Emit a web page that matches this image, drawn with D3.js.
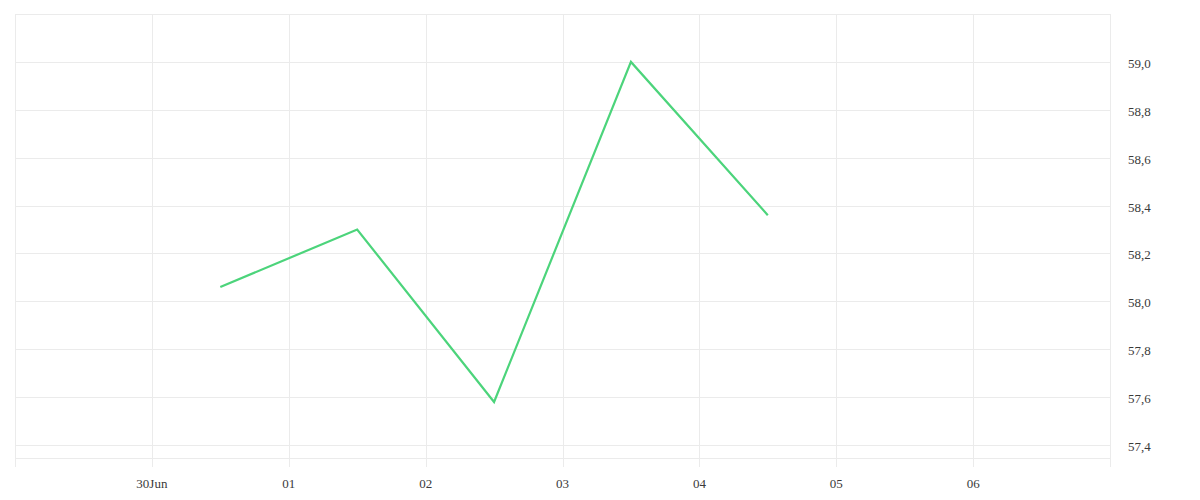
<!DOCTYPE html>
<html><head><meta charset="utf-8">
<script src="https://cdn.jsdelivr.net/npm/d3@7"></script>
<style>
html,body{margin:0;padding:0;background:#fff;}
text{font-family:"Liberation Serif","DejaVu Serif",serif;font-size:13px;fill:#3a3a3a;}
</style></head>
<body><svg id="c" width="1200" height="500"></svg>
<script>
const dates = ["2024-06-30T12:00","2024-07-01T12:00","2024-07-02T12:00","2024-07-03T12:00","2024-07-04T12:00"];
const values = [58.06, 58.30, 57.58, 59.00, 58.36];
const xTicks = ["2024-06-30","2024-07-01","2024-07-02","2024-07-03","2024-07-04","2024-07-05","2024-07-06"];
const xTickLabels = ["30Jun","01","02","03","04","05","06"];
const yTicks = [57.4,57.6,57.8,58.0,58.2,58.4,58.6,58.8,59.0];

(function(){
const parse = d3.isoParse;
const pl = 15, pr = 1110, pt = 14, pb = 458;
const svg = d3.select("#c");
const x = d3.scaleTime().domain([parse("2024-06-29"), parse("2024-07-07")]).range([pl, pr]);
const y = d3.scaleLinear().domain([57.346, 59.2]).range([pb, pt]);
const grid = "#ebebeb";

const g = svg.append("g");
g.selectAll(".hg").data(yTicks).enter().append("line")
 .attr("x1", pl).attr("x2", pr)
 .attr("y1", d => Math.round(y(d)) + 0.5).attr("y2", d => Math.round(y(d)) + 0.5)
 .attr("stroke", grid);
g.append("line").attr("x1", pl).attr("x2", pr).attr("y1", pt + 0.5).attr("y2", pt + 0.5).attr("stroke", grid);
g.append("line").attr("x1", pl).attr("x2", pr).attr("y1", pb + 0.5).attr("y2", pb + 0.5).attr("stroke", grid);
g.append("line").attr("x1", pl + 0.5).attr("x2", pl + 0.5).attr("y1", pt).attr("y2", pb + 9).attr("stroke", grid);
g.append("line").attr("x1", pr + 0.5).attr("x2", pr + 0.5).attr("y1", pt).attr("y2", pb + 9).attr("stroke", grid);
g.selectAll(".vg").data(xTicks).enter().append("line")
 .attr("x1", d => Math.round(x(parse(d))) + 0.5).attr("x2", d => Math.round(x(parse(d))) + 0.5)
 .attr("y1", pt).attr("y2", pb + 9).attr("stroke", grid);

g.selectAll(".xl").data(xTicks).enter().append("text")
 .attr("x", d => x(parse(d))).attr("y", 488)
 .attr("text-anchor", "middle")
 .text((d, i) => xTickLabels[i]);

const fmt = d => d3.format(".1f")(d).replace(".", ",");
g.selectAll(".yl").data(yTicks).enter().append("text")
 .attr("x", 1128).attr("y", d => y(d) + 6)
 .text(fmt);

const line = d3.line().x((d, i) => x(parse(dates[i]))).y(d => y(d));
svg.append("path").datum(values).attr("d", line)
 .attr("fill", "none").attr("stroke", "#4cd47b").attr("stroke-width", 2.2)
 .attr("stroke-linejoin", "miter");
})();
</script></body></html>
